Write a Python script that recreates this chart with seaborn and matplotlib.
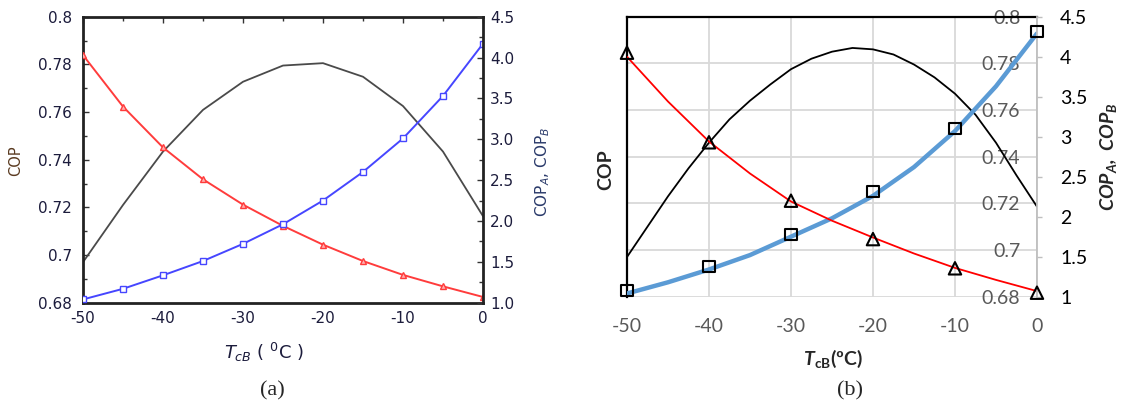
import matplotlib
matplotlib.use("Agg")
import numpy as np
import pandas as pd
import seaborn as sns
import matplotlib.pyplot as plt
from matplotlib.ticker import MultipleLocator, FuncFormatter

# ---------------- data: panel (a) ----------------
t_a = [-50, -45, -40, -35, -30, -25, -20, -15, -10, -5, 0]
cop_a = [0.697, 0.721, 0.7434, 0.7609, 0.7727, 0.7795, 0.7805, 0.7748, 0.7625, 0.7434, 0.7163]
copA_a = [4.03, 3.40, 2.90, 2.51, 2.20, 1.94, 1.71, 1.51, 1.34, 1.20, 1.07]
copB_a = [1.04, 1.17, 1.335, 1.51, 1.72, 1.96, 2.25, 2.60, 3.01, 3.53, 4.17]

# ---------------- data: panel (b) ----------------
t_pts = [-50, -40, -30, -20, -10, 0]
copA_pts = [4.05, 2.93, 2.20, 1.72, 1.355, 1.05]
copB_pts = [1.075, 1.375, 1.78, 2.32, 3.10, 4.32]
t_fit = [-50, -45, -40, -35, -30, -25, -20, -15, -10, -5, 0]
copA_fit = [4.00, 3.44, 2.94, 2.54, 2.19, 1.95, 1.74, 1.54, 1.36, 1.21, 1.07]
copB_fit = [1.04, 1.18, 1.34, 1.52, 1.75, 1.98, 2.26, 2.62, 3.07, 3.63, 4.29]
t_cop = [-50, -47.5, -45, -42.5, -40, -37.5, -35, -32.5, -30, -27.5, -25,
         -22.5, -20, -17.5, -15, -12.5, -10, -7.5, -5, -2.5, 0]
cop_b = [0.697, 0.710, 0.723, 0.735, 0.746, 0.756, 0.764, 0.771, 0.7775, 0.782, 0.785,
         0.7866, 0.786, 0.7838, 0.7795, 0.774, 0.767, 0.758, 0.746, 0.732, 0.7186]

sns.set_style("white")
plt.rcParams["font.family"] = ["DejaVu Sans"]
plt.rcParams["axes.unicode_minus"] = False
plt.rcParams["mathtext.rm"] = "Lato"
plt.rcParams["mathtext.it"] = "Lato:italic"
plt.rcParams["mathtext.bf"] = "Lato:bold"
try:
    plt.rcParams["mathtext.bfit"] = "Lato:bold:italic"
except KeyError:
    pass

fig = plt.figure(figsize=(11.23, 4.08), dpi=100)

# ================= panel (a) =================
dark = "#1c1c3c"
axA = fig.add_axes([0.0739, 0.2581, 0.3562, 0.701])
axA2 = axA.twinx()

sns.lineplot(x=t_a, y=cop_a, ax=axA, color="#4a4a4a", lw=1.3)
sns.lineplot(x=t_a, y=copA_a, ax=axA2, color="#ff3c3c", lw=1.4,
             marker="^", markersize=4, markerfacecolor="#ffb0b0",
             markeredgecolor="#ff3c3c", markeredgewidth=1)
sns.lineplot(x=t_a, y=copB_a, ax=axA2, color="#4646ff", lw=1.4,
             marker="s", markersize=4, markerfacecolor="white",
             markeredgecolor="#4646ff", markeredgewidth=1)

axA.set_xlim(-50, 0)
axA.set_ylim(0.68, 0.80)
axA2.set_ylim(1.0, 4.5)
axA.xaxis.set_major_locator(MultipleLocator(10))
axA.xaxis.set_minor_locator(MultipleLocator(5))
axA.yaxis.set_major_locator(MultipleLocator(0.02))
axA.yaxis.set_minor_locator(MultipleLocator(0.01))
axA.yaxis.set_major_formatter(FuncFormatter(lambda v, p: f"{round(v, 2):g}"))
axA2.yaxis.set_major_locator(MultipleLocator(0.5))
axA2.yaxis.set_minor_locator(MultipleLocator(0.25))
axA2.yaxis.set_major_formatter(FuncFormatter(lambda v, p: f"{v:.1f}"))

for sp in axA.spines.values():
    sp.set_color("#222222")
    sp.set_linewidth(2)
axA.spines["right"].set_visible(False)
for name, sp in axA2.spines.items():
    sp.set_visible(name == "right")
    sp.set_color("#222222")
    sp.set_linewidth(2)

axA.tick_params(axis="both", which="both", direction="in", colors="#333333",
                labelcolor=dark, labelsize=11, top=True, right=False)
axA.tick_params(axis="both", which="major", length=4, width=1)
axA.tick_params(axis="both", which="minor", length=3, width=1)
axA.tick_params(axis="y", pad=8)
axA.tick_params(axis="x", pad=6)
axA2.tick_params(axis="y", which="both", direction="in", colors="#333333",
                 labelcolor=dark, labelsize=11, pad=5)
axA2.tick_params(axis="y", which="major", length=4, width=1)
axA2.tick_params(axis="y", which="minor", length=3, width=1)

axA.set_ylabel("COP", fontsize=10.5, color="#5a3a20", math_fontfamily="dejavusans")
axA.yaxis.set_label_coords(-0.15, 0.495)
axA2.set_ylabel(r"COP$_{A}$, COP$_{B}$", fontsize=11, color="#2a3a6a",
                math_fontfamily="dejavusans")
axA2.yaxis.set_label_coords(1.125, 0.458)
axA.set_xlabel(r"$T_{cB}$ ( $^{0}$C )", fontsize=13, color=dark,
               math_fontfamily="dejavusans")
axA.xaxis.set_label_coords(0.4525, -0.135)

# ================= panel (b) =================
gray = "#595959"
axB = fig.add_axes([0.5583, 0.2728, 0.3651, 0.6863])
axB2 = axB.twinx()

axB.set_axisbelow(True)
axB.grid(True, color="#d9d9d9", lw=1.3)
axB2.grid(False)

sns.lineplot(x=t_cop, y=cop_b, ax=axB, color="black", lw=1.3)
sns.lineplot(x=t_fit, y=copB_fit, ax=axB2, color="#5b9bd5", lw=3.2)
sns.lineplot(x=t_fit, y=copA_fit, ax=axB2, color="#ff0000", lw=1.3)
sns.scatterplot(x=t_pts, y=copA_pts, ax=axB2, marker="^", s=80, color="black",
                facecolor="none", edgecolor="black", linewidth=1.5,
                clip_on=False, zorder=5)
sns.scatterplot(x=t_pts, y=copB_pts, ax=axB2, marker="s", s=64, color="black",
                facecolor="none", edgecolor="black", linewidth=1.5,
                clip_on=False, zorder=5)

axB.set_xlim(-50, 0)
axB.set_ylim(0.68, 0.80)
axB2.set_ylim(1.0, 4.5)
axB.xaxis.set_major_locator(MultipleLocator(10))
axB.yaxis.set_major_locator(MultipleLocator(0.02))
axB.yaxis.set_major_formatter(FuncFormatter(lambda v, p: f"{round(v, 2):g}"))
axB2.yaxis.set_major_locator(MultipleLocator(0.5))
axB2.yaxis.set_major_formatter(FuncFormatter(lambda v, p: f"{round(v, 1):g}"))

for name, sp in axB.spines.items():
    sp.set_visible(name in ("left", "top"))
    sp.set_color("black")
    sp.set_linewidth(1.6)
for name, sp in axB2.spines.items():
    sp.set_visible(name == "right")
    sp.set_color("#bfbfbf")
    sp.set_linewidth(1.3)

axB.yaxis.tick_right()
axB.yaxis.set_label_position("left")
axB.tick_params(axis="y", length=0, pad=-12, labelcolor=gray, labelsize=14,
                left=False, right=False, labelleft=False, labelright=True)
axB.tick_params(axis="x", length=0, pad=15, labelcolor=gray, labelsize=14)
axB2.tick_params(axis="y", direction="out", length=3.6, width=1, color="#bfbfbf",
                 labelcolor="black", labelsize=14, pad=13)

axB.set_ylabel("COP", fontsize=14, fontweight="bold", family="Lato")
axB.yaxis.set_label_coords(-0.03, 0.4525)
axB2.set_ylabel(r"$\mathbfit{COP_A,\ COP_B}$", fontsize=14, family="Lato",
                math_fontfamily="custom")
axB2.yaxis.set_label_coords(1.15, 0.5)
axB.set_xlabel(r"$\mathbfit{T}_{\mathbf{cB}}$(ºC)", fontsize=14, fontweight="bold",
               family="Lato", math_fontfamily="custom")
axB.xaxis.set_label_coords(0.502, -0.183)

fig.canvas.draw()
plt.setp(axB.get_yticklabels(), ha="right", family="Lato")
plt.setp(axB.get_xticklabels(), family="Lato")
plt.setp(axB2.get_yticklabels(), family="Lato")

fig.text(272 / 1123, 1 - 391 / 408, "(a)", ha="center", va="center",
         family="Liberation Serif", fontsize=16)
fig.text(850 / 1123, 1 - 391 / 408, "(b)", ha="center", va="center",
         family="Liberation Serif", fontsize=16)

fig.savefig("out.png", dpi=100)
